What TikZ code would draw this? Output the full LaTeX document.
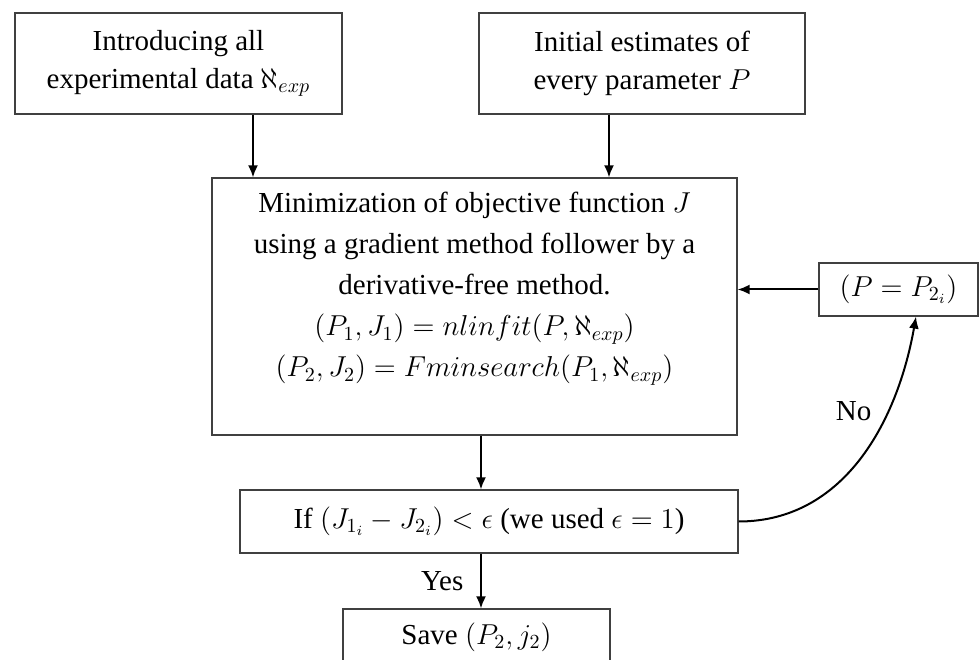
\documentclass[tikz,border=0pt]{standalone}
\usepackage{fontspec}
\setmainfont{Liberation Serif}
\usetikzlibrary{arrows.meta, positioning, calc}

\begin{document}
\begin{tikzpicture}[x=0.5pt, y=0.5pt, font=\fontsize{14.5}{19}\selectfont,
    box/.style={draw=black!75, line width=0.6pt, align=center, inner sep=0pt},
    arr/.style={-{Latex[length=6pt, width=5pt]}, line width=1pt}]
    \useasboundingbox (0,0) rectangle (979,659);
    % input boxes
    \node[box, minimum width=163.5pt, minimum height=50.5pt] (intro) at (178.5,595.5) {Introducing all\\experimental data $\aleph_{exp}$};
    \node[box, minimum width=163pt, minimum height=50.5pt] (init) at (642,595.5) {Initial estimates of\\every parameter $P$};
    % optimisation step
    \node[box, minimum width=262.5pt, minimum height=128.5pt, text depth=22pt, font=\fontsize{14.5}{20.5}\selectfont] (minim) at (474.5,352.5)
      {Minimization of objective function $J$\\using a gradient method follower by a\\derivative-free method.\\
       $(P_1,J_1)=nlinfit(P,\aleph_{exp})$\\$(P_2,J_2)=Fminsearch(P_1,\aleph_{exp})$};
    \node[box, minimum width=79.5pt, minimum height=26.5pt] (update) at (898.5,369.5) {$\bigl(P=P_{2_i}\bigr)$};
    % test and result
    \node[box, minimum width=249pt, minimum height=31.5pt] (test) at (489,137.5) {If $\bigl(J_{1_i}-J_{2_i}\bigr)<\epsilon$ (we used $\epsilon=1$)};
    \node[box, minimum width=133.5pt, minimum height=28pt] (save) at (476.5,22) {Save $(P_2,j_2)$};

    \draw[arr] ([xshift=37.25pt]intro.south) -- ([xshift=37.25pt]intro.south |- minim.north);
    \draw[arr] ([xshift=-16.5pt]init.south) -- ([xshift=-16.5pt]init.south |- minim.north);
    \draw[arr] ([xshift=3.25pt]minim.south) -- ([xshift=3.25pt]minim.south |- test.north);
    \draw[arr] ([xshift=-4pt]test.south) -- node[left, xshift=-5pt] {Yes} ([xshift=-4pt]test.south |- save.north);
    \draw[arr] (update.west) -- (update.west -| minim.east);
    \draw[arr] (test.east) to[out=0, in=-100] node[pos=0.62, above left] {No} ([xshift=8.75pt]update.south);
\end{tikzpicture}
\end{document}
